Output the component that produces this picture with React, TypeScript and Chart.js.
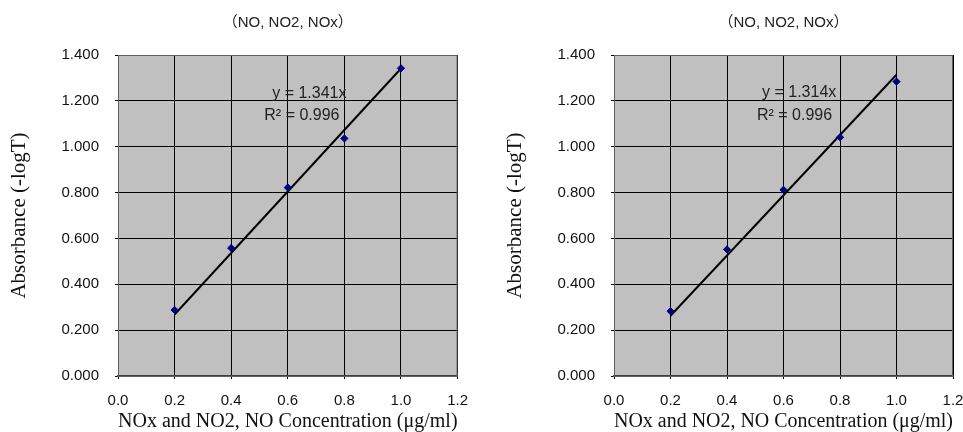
import React, { useEffect, useRef } from 'react';
import { Chart, registerables } from 'chart.js';

Chart.register(...registerables);

// ---- data ----
const concentrations = [0.2, 0.4, 0.6, 0.8, 1.0];
const absorbanceLeft = [0.288, 0.558, 0.822, 1.036, 1.342];
const absorbanceRight = [0.283, 0.552, 0.812, 1.041, 1.284];
const trendX = [0.2, 1.0];
const trendLeft = [0.268, 1.341];
const trendRight = [0.263, 1.314];
const chartTitle = '（NO, NO2, NOx）';
const xAxisTitle = 'NOx and NO2, NO Concentration (μg/ml)';
const yAxisTitle = 'Absorbance (-logT)';
const equationLeft = ['y = 1.341x', 'R² = 0.996'];
const equationRight = ['y = 1.314x', 'R² = 0.996'];
const equationAnchorLeft = [[0.545, 1.233], [0.517, 1.137]];
const equationAnchorRight = [[0.524, 1.237], [0.506, 1.137]];
const xMin = 0, xMax = 1.2, xStep = 0.2;
const yMin = 0, yMax = 1.4, yStep = 0.2;

const SANS = "Arial, 'Liberation Sans', 'Noto Sans CJK JP', sans-serif";
const SERIF = "'Times New Roman', 'Liberation Serif', serif";

const plotDecor = {
  id: 'plotDecor',
  beforeDraw(chart: any) {
    const { ctx, chartArea } = chart;
    const { left, top, width, height } = chartArea;
    ctx.save();
    ctx.fillStyle = '#c0c0c0';
    ctx.fillRect(left, top, width, height);
    ctx.restore();
  },
  afterDatasetsDraw(chart: any) {
    const opts = chart.options.plugins.plotDecor || {};
    const { ctx, chartArea, scales } = chart;
    ctx.save();
    ctx.strokeStyle = '#606060';
    ctx.lineWidth = 1;
    ctx.strokeRect(chartArea.left + 0.5, chartArea.top + 0.5, chartArea.width - 1, chartArea.height);
    const lines: string[] = opts.lines || [];
    const anchors: number[][] = opts.anchors || [];
    ctx.fillStyle = '#222222';
    ctx.font = `16px ${SANS}`;
    ctx.textAlign = 'left';
    ctx.textBaseline = 'middle';
    lines.forEach((t, i) => {
      const a = anchors[i];
      ctx.fillText(t, scales.x.getPixelForValue(a[0]), scales.y.getPixelForValue(a[1]));
    });
    ctx.restore();
  },
};

type PanelProps = {
  values: number[];
  trend: number[];
  lines: string[];
  anchors: number[][];
  padRight: number;
  left: number;
};

function Panel({ values, trend, lines, anchors, padRight, left }: PanelProps) {
  const ref = useRef<HTMLCanvasElement>(null);
  useEffect(() => {
    if (!ref.current) return;
    const chart = new Chart(ref.current, {
      type: 'scatter',
      data: {
        datasets: [
          {
            label: 'points',
            data: concentrations.map((x, i) => ({ x, y: values[i] })),
            backgroundColor: '#000080',
            borderColor: '#000080',
            pointStyle: 'rectRot',
            pointRadius: 3.6,
            borderWidth: 1,
            showLine: false,
          },
          {
            label: 'trend',
            data: trendX.map((x, i) => ({ x, y: trend[i] })),
            borderColor: '#000000',
            borderWidth: 2,
            pointRadius: 0,
            showLine: true,
          },
        ],
      },
      options: {
        responsive: false,
        animation: false,
        layout: { padding: { left: 0, right: padRight, top: 0, bottom: 0 } },
        plugins: {
          legend: { display: false },
          tooltip: { enabled: false },
          title: {
            display: true,
            text: chartTitle,
            fullSize: false,
            color: '#222222',
            font: { family: SANS, size: 15, weight: 'normal', lineHeight: 1.2 },
            padding: { top: 14, bottom: 23 },
          },
          plotDecor: { lines, anchors },
        } as any,
        scales: {
          x: {
            type: 'linear',
            min: xMin,
            max: xMax,
            afterFit: (s: any) => { s.height = 56; },
            ticks: {
              stepSize: xStep,
              color: '#111111',
              padding: 13,
              font: { family: SANS, size: 15, lineHeight: 1.2 },
              callback: (v: any) => Number(v).toFixed(1),
            },
            grid: { color: '#000000', lineWidth: 1, tickLength: 3, drawTicks: true },
            border: { color: '#404040', width: 2 },
            title: {
              display: true,
              text: xAxisTitle,
              color: '#111111',
              font: { family: SERIF, size: 20, lineHeight: 1.2 },
              padding: { top: 0, bottom: -2 },
            },
          },
          y: {
            type: 'linear',
            min: yMin,
            max: yMax,
            afterFit: (s: any) => { s.width = 118; },
            ticks: {
              stepSize: yStep,
              color: '#111111',
              padding: 16,
              font: { family: SANS, size: 15, lineHeight: 1.2 },
              callback: (v: any) => Number(v).toFixed(3),
            },
            grid: { color: '#000000', lineWidth: 1, tickLength: 3, drawTicks: true },
            border: { color: '#000000', width: 1 },
            title: {
              display: true,
              text: yAxisTitle,
              color: '#111111',
              font: { family: SERIF, size: 21, lineHeight: 1.2 },
              padding: { top: 7, bottom: 0 },
            },
          },
        },
      },
      plugins: [plotDecor],
    } as any);
    return () => chart.destroy();
  }, []);
  return (
    <canvas
      ref={ref}
      width={481}
      height={432}
      style={{ position: 'absolute', left, top: 0, width: 481, height: 432 }}
    />
  );
}

export default function App() {
  return (
    <div
      style={{
        position: 'fixed',
        left: 0,
        top: 0,
        width: 963,
        height: 432,
        overflow: 'hidden',
        background: '#ffffff',
      }}
    >
      <Panel values={absorbanceLeft} trend={trendLeft} lines={equationLeft} anchors={equationAnchorLeft} padRight={22} left={0} />
      <Panel values={absorbanceRight} trend={trendRight} lines={equationRight} anchors={equationAnchorRight} padRight={24} left={496} />
    </div>
  );
}
